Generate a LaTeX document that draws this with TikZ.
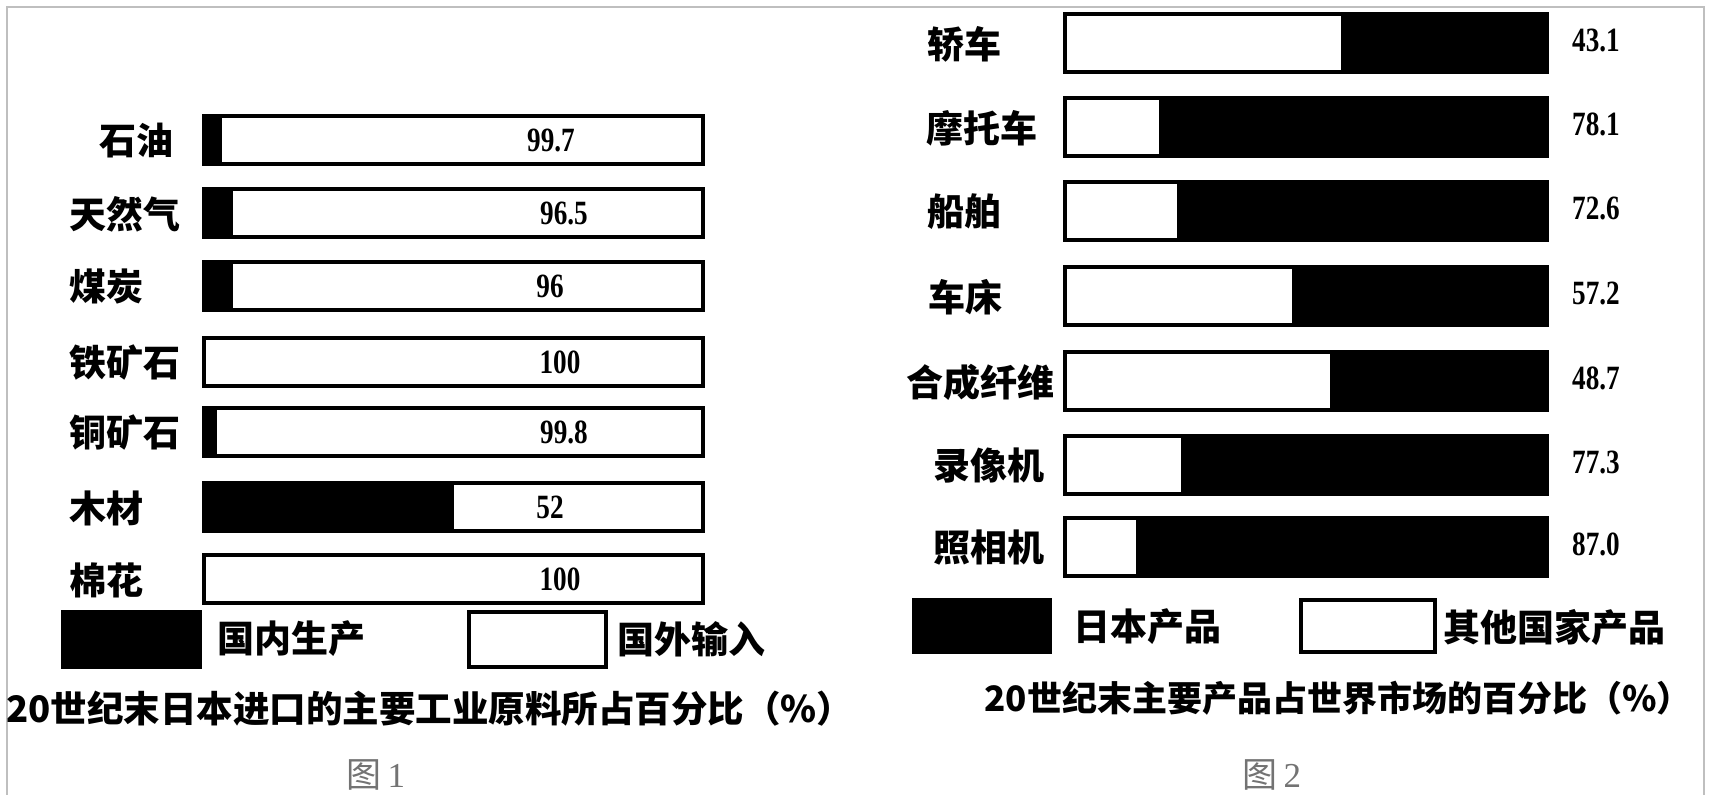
\documentclass[tikz,border=0pt]{standalone}
\usepackage{fontspec}
\setmainfont{Liberation Serif}
\newfontfamily\cjk{Noto Sans CJK SC}
\newfontfamily\numf{Liberation Serif}[FakeStretch=0.8]
\tikzset{
  lab/.style={font=\cjk\bfseries\fontsize{37}{40}\selectfont, inner sep=0pt, anchor=west},
  clab/.style={font=\cjk\bfseries\fontsize{37}{40}\selectfont, inner sep=0pt},
  num/.style={font=\numf\bfseries\fontsize{34}{36}\selectfont, inner sep=0pt},
  ttl/.style={font=\cjk\bfseries\fontsize{35}{38}\selectfont, inner sep=0pt},
  fig/.style={font=\cjk\fontsize{35}{38}\selectfont, inner sep=0pt, text=black!55},
  barline/.style={draw=black, line width=3.5pt},
  frameline/.style={draw=black!25, line width=2pt}
}
\begin{document}
\begin{tikzpicture}[x=1pt,y=-1pt]
\useasboundingbox (0,0) rectangle (1709,795);
\fill[white] (0,0) rectangle (1709,795);
\draw[frameline] (7,795) -- (7,7) -- (1704,7) -- (1704,795);

% ---------- Figure 1 ----------
\foreach \t/\b/\lx/\name/\val/\vx [count=\i] in {
  116/18/99/石油/99.7/551,
  189/29/69/天然气/96.5/564,
  262/29/69/煤炭/96/550,
  338/0/69/铁矿石/100/560,
  408/13/69/铜矿石/99.8/564,
  483/250/69/木材/52/550,
  555/0/69/棉花/100/560}{
  \ifnum\b>0 \fill[black] (204,\t) rectangle ++(\b,48);\fi
  \draw[barline] (204,\t) rectangle (703,\t+48);
  \node[lab] (La\i) at (\lx,\t+25) {\name};
  \node[num] (Va\i) at (\vx,\t+24) {\val};
}
\fill[black] (63,612) rectangle (200,667);
\draw[barline] (63,612) rectangle (200,667);
\node[lab] (leg1a) at (217,639) {国内生产};
\draw[barline, fill=white] (469,612) rectangle (606,667);
\node[lab] (leg1b) at (617,639) {国外输入};
\node[ttl, font=\cjk\bfseries\fontsize{36.5}{38}\selectfont] (title1) at (430,709) {20世纪末日本进口的主要工业原料所占百分比（\%）};
\node[fig] (fig1) at (376,775) {图\,{\rmfamily\mdseries 1}};

% ---------- Figure 2 ----------
\foreach \t/\w/\cx/\name/\val [count=\i] in {
  14/1341/964/轿车/43.1,
  98/1159/982/摩托车/78.1,
  182/1177/964/船舶/72.6,
  267/1292/965/车床/57.2,
  352/1330/980/合成纤维/48.7,
  436/1181/989/录像机/77.3,
  518/1136/989/照相机/87.0}{
  \fill[black] (1065,\t) rectangle (1547,\t+58);
  \fill[white] (1065,\t) rectangle (\w,\t+58);
  \draw[barline] (1065,\t) rectangle (1547,\t+58);
  \node[clab] (Lb\i) at (\cx,\t+30) {\name};
  \node[num, anchor=west] (Vb\i) at (1572,\t+26) {\val};
}
\fill[black] (914,600) rectangle (1050,652);
\draw[barline] (914,600) rectangle (1050,652);
\node[lab] (leg2a) at (1073,627) {日本产品};
\draw[barline, fill=white] (1301,600) rectangle (1435,652);
\node[lab] (leg2b) at (1443,627) {其他国家产品};
\node[ttl] (title2) at (1338,698) {20世纪末主要产品占世界市场的百分比（\%）};
\node[fig] (fig2) at (1272,775) {图\,{\rmfamily\mdseries 2}};
\end{tikzpicture}
\end{document}
